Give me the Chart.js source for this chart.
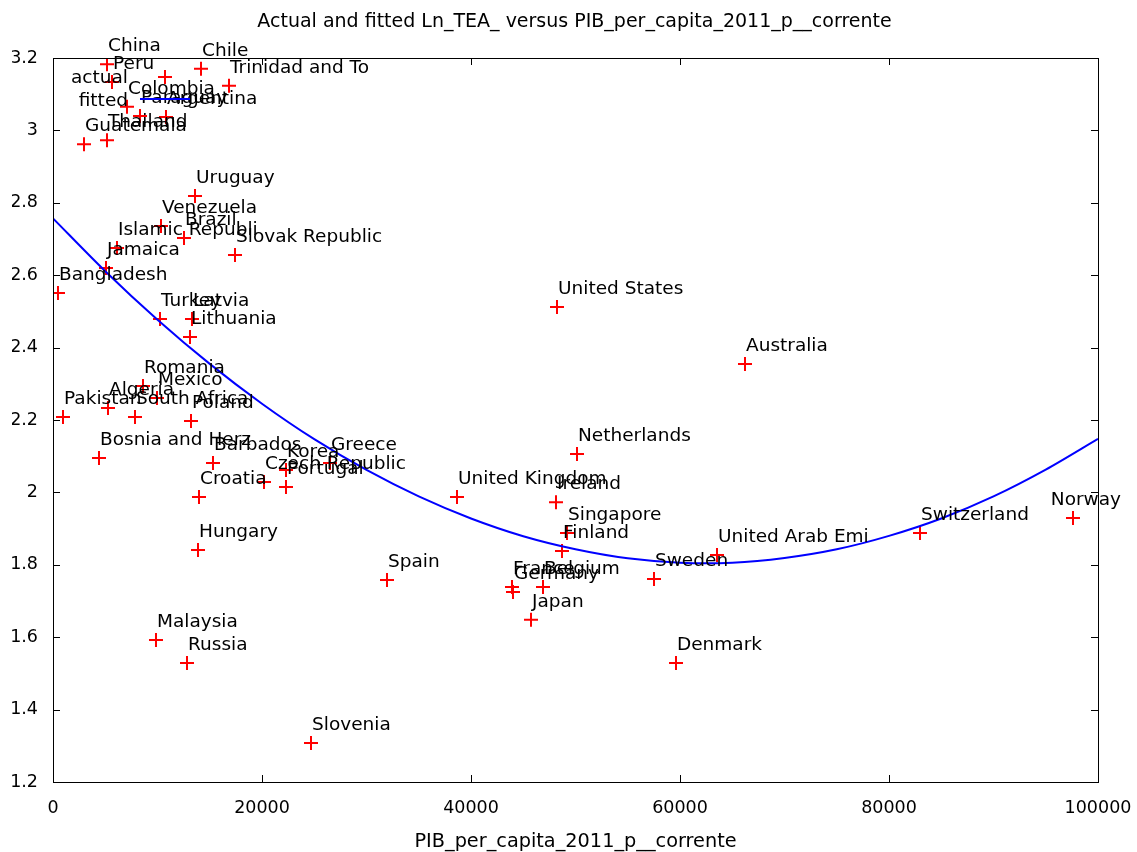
<!DOCTYPE html>
<html>
<head>
<meta charset="utf-8">
<title>Actual and fitted Ln_TEA_</title>
<script src="https://cdn.jsdelivr.net/npm/chart.js@4.4.0/dist/chart.umd.min.js"></script>
<style>
  html, body { margin: 0; padding: 0; background: #fff; }
  #caja { width: 1137px; height: 852px; }
</style>
</head>
<body>
<div id="caja"><canvas id="myChart"></canvas></div>
<script>
const paises = ['China', 'Peru', 'Chile', 'Trinidad and To', 'Colombia', 'Paraguay', 'Argentina',
  'Thailand', 'Guatemala', 'Uruguay', 'Venezuela', 'Brazil', 'Islamic Republi', 'Slovak Republic',
  'Jamaica', 'Bangladesh', 'Turkey', 'Latvia', 'Lithuania', 'Romania', 'Mexico', 'Algeria',
  'Pakistan', 'South Africa', 'Poland', 'Bosnia and Herz', 'Barbados', 'Croatia', 'Hungary',
  'Czech Republic', 'Korea', 'Portugal', 'Greece', 'Netherlands', 'United Kingdom', 'Ireland',
  'Singapore', 'Finland', 'Spain', 'France', 'Germany', 'Belgium', 'Japan', 'Malaysia', 'Russia',
  'Slovenia', 'Denmark', 'Sweden', 'United Arab Emi', 'Switzerland', 'Norway', 'Australia',
  'United States'];
const pib = [5167, 5646, 14163, 16842, 7081, 8325, 10813,
  5167, 2967, 13589, 10335, 12536, 6124, 17416,
  5072, 478, 10239, 13301, 13110, 8612, 9952, 5263,
  957, 7847, 13206, 4402, 15311, 13971, 13876,
  20191, 22297, 22297, 26507, 50144, 38660, 48134,
  49187, 48708, 31962, 43923, 44019, 46890, 45742, 9856, 12823,
  24689, 59617, 57512, 63541, 82967, 97608, 66220,
  48230];
const lnTea = [3.183, 3.134, 3.170, 3.123, 3.065, 3.040, 3.037,
  2.973, 2.962, 2.819, 2.736, 2.703, 2.675, 2.656,
  2.620, 2.551, 2.479, 2.479, 2.429, 2.294, 2.261, 2.233,
  2.208, 2.208, 2.197, 2.095, 2.081, 1.987, 1.841,
  2.029, 2.062, 2.015, 2.081, 2.106, 1.987, 1.973,
  1.888, 1.838, 1.758, 1.739, 1.725, 1.739, 1.648, 1.592, 1.529,
  1.308, 1.529, 1.761, 1.827, 1.888, 1.929, 2.355,
  2.512];

// curva ajustada
const fitPib = [0, 5000, 10000, 15000, 20000, 25000, 30000, 35000, 40000, 45000, 50000,
  55000, 60000, 65000, 70000, 75000, 80000, 85000, 90000, 95000, 100000];
const fitLnTea = [2.757, 2.611, 2.477, 2.355, 2.245, 2.147, 2.062, 1.989, 1.928, 1.879, 1.843,
  1.818, 1.806, 1.806, 1.819, 1.843, 1.880, 1.928, 1.989, 2.063, 2.148];

const xTicks = [0, 20000, 40000, 60000, 80000, 100000];
const yTicks = [1.2, 1.4, 1.6, 1.8, 2, 2.2, 2.4, 2.6, 2.8, 3, 3.2];

const fuente = '"DejaVu Sans", sans-serif';

const marco = {
  id: 'marco',
  afterDatasetsDraw(chart) {
    const {ctx, chartArea: a} = chart;
    ctx.save();
    ctx.strokeStyle = '#000';
    ctx.lineWidth = 1;
    ctx.strokeRect(Math.round(a.left) + 0.5, Math.round(a.top) + 0.5,
      Math.round(a.right - a.left), Math.round(a.bottom - a.top));
    ctx.beginPath();
    chart.scales.x.ticks.forEach(t => {
      const px = Math.round(chart.scales.x.getPixelForValue(t.value)) + 0.5;
      ctx.moveTo(px, a.bottom); ctx.lineTo(px, a.bottom - 7);
      ctx.moveTo(px, a.top); ctx.lineTo(px, a.top + 7);
    });
    chart.scales.y.ticks.forEach(t => {
      const py = Math.round(chart.scales.y.getPixelForValue(t.value)) + 0.5;
      ctx.moveTo(a.left, py); ctx.lineTo(a.left + 7, py);
      ctx.moveTo(a.right, py); ctx.lineTo(a.right - 7, py);
    });
    ctx.stroke();
    ctx.restore();
  }
};

const etiquetas = {
  id: 'etiquetas',
  afterDraw(chart) {
    const ctx = chart.ctx;
    const meta = chart.getDatasetMeta(0);
    ctx.save();
    ctx.font = '18.5px ' + fuente;
    ctx.fillStyle = '#000';
    ctx.textBaseline = 'middle';
    ctx.textAlign = 'left';
    meta.data.forEach((p, i) => {
      const txt = paises[i];
      const w = ctx.measureText(txt).width;
      let x = p.x + 1;
      if (x + w > chart.width - 16) x = chart.width - 16 - w;
      ctx.fillText(txt, x, p.y - 18);
    });

    // leyenda al estilo gnuplot
    const a = chart.chartArea;
    const ds = chart.data.datasets;
    ctx.textAlign = 'right';
    ctx.fillText(ds[0].label, a.left + 75, a.top + 20);
    ctx.fillText(ds[1].label, a.left + 75, a.top + 43);
    ctx.strokeStyle = ds[0].borderColor;
    ctx.lineWidth = 2;
    ctx.beginPath();
    ctx.moveTo(a.left + 105, a.top + 19); ctx.lineTo(a.left + 119, a.top + 19);
    ctx.moveTo(a.left + 112, a.top + 12); ctx.lineTo(a.left + 112, a.top + 26);
    ctx.stroke();
    ctx.strokeStyle = ds[1].borderColor;
    ctx.beginPath();
    ctx.moveTo(a.left + 87, a.top + 41); ctx.lineTo(a.left + 137, a.top + 41);
    ctx.stroke();
    ctx.restore();
  }
};

const ctx = document.getElementById('myChart');
new Chart(ctx, {
  type: 'scatter',
  data: {
    datasets: [{
      label: 'actual',
      data: pib.map((v, i) => ({x: v, y: lnTea[i]})),
      pointStyle: 'cross',
      pointRadius: 7,
      borderColor: '#ff0000',
      backgroundColor: '#ff0000',
      borderWidth: 2,
      showLine: false,
      order: 1
    }, {
      label: 'fitted',
      data: fitPib.map((v, i) => ({x: v, y: fitLnTea[i]})),
      showLine: true,
      borderColor: '#0000ff',
      backgroundColor: '#0000ff',
      borderWidth: 2,
      pointRadius: 0,
      tension: 0.3,
      order: 0
    }]
  },
  options: {
    responsive: true,
    maintainAspectRatio: false,
    animation: false,
    layout: { padding: { left: 12, right: 0, top: 0, bottom: 0 } },
    plugins: {
      legend: { display: false },
      tooltip: { enabled: false },
      title: {
        display: true,
        text: 'Actual and fitted Ln_TEA_ versus PIB_per_capita_2011_p__corrente',
        color: '#000',
        font: { family: fuente, size: 19, weight: 'normal' },
        padding: { top: 10.5, bottom: 24.7 }
      }
    },
    scales: {
      x: {
        type: 'linear',
        position: 'bottom',
        min: 0,
        max: 100000,
        afterBuildTicks: s => { s.ticks = xTicks.map(v => ({value: v})); },
        afterFit: s => { s.height = 70; s.paddingLeft = 0; s.paddingRight = 39; },
        grid: { display: false, drawTicks: false },
        border: { display: false },
        ticks: {
          callback: v => String(v),
          color: '#000',
          font: { family: fuente, size: 17.5 },
          padding: 15.5,
          maxRotation: 0,
          autoSkip: false
        },
        title: {
          display: true,
          text: 'PIB_per_capita_2011_p__corrente',
          color: '#000',
          font: { family: fuente, size: 19.3 },
          padding: { top: 0, bottom: -2 }
        }
      },
      y: {
        type: 'linear',
        min: 1.2,
        max: 3.2,
        afterBuildTicks: s => { s.ticks = yTicks.map(v => ({value: v})); },
        afterFit: s => { s.width = 41; },
        grid: { display: false, drawTicks: false },
        border: { display: false },
        ticks: {
          callback: v => String(v),
          color: '#000',
          font: { family: fuente, size: 17.5 },
          padding: 15
        }
      }
    }
  },
  plugins: [marco, etiquetas]
});
</script>
</body>
</html>
